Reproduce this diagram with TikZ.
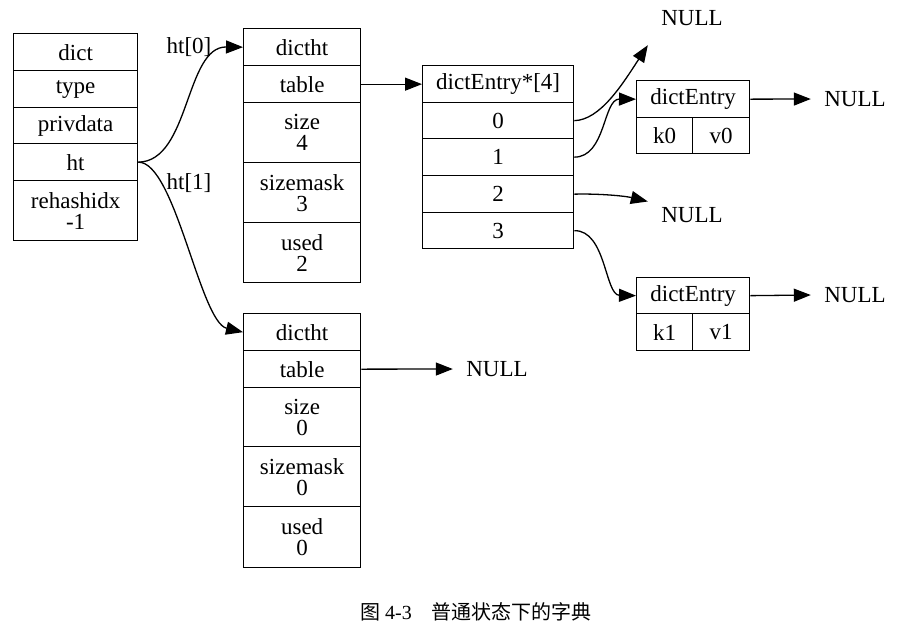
\documentclass[tikz,border=0pt]{standalone}
\usepackage{fontspec}
\setmainfont{Liberation Serif}
\newfontfamily\cjk{Noto Sans CJK SC}
\usetikzlibrary{arrows.meta}
\begin{document}
\begin{tikzpicture}[x=1pt,y=-1pt,
  txt/.style={font=\fontsize{23}{21}\selectfont},
  cell/.style={txt, draw, line width=1.3pt, inner sep=0pt, anchor=north west, align=center},
  null/.style={txt, inner sep=0pt, minimum width=88pt, minimum height=54pt},
  link/.style={line width=1.3pt, -{Triangle[length=17pt,width=13pt]}}]
\useasboundingbox (0,0) rectangle (921,633);
% dict
\node[cell, minimum width=124pt, minimum height=37pt] (d0) at (13,33) {dict};
\node[cell, minimum width=124pt, minimum height=37pt] (d1) at (13,70) {type};
\node[cell, minimum width=124pt, minimum height=36pt] (d2) at (13,107) {privdata};
\node[cell, minimum width=124pt, minimum height=37pt] (d3) at (13,143) {ht};
\node[cell, minimum width=124pt, minimum height=60pt] (d4) at (13,180) {rehashidx\\-1};
% dictht 0
\node[cell, minimum width=117pt, minimum height=37pt] (a0) at (243,28) {dictht};
\node[cell, minimum width=117pt, minimum height=37pt] (a1) at (243,65) {table};
\node[cell, minimum width=117pt, minimum height=60pt] (a2) at (243,102) {size\\4};
\node[cell, minimum width=117pt, minimum height=60pt] (a3) at (243,162) {sizemask\\3};
\node[cell, minimum width=117pt, minimum height=60pt] (a4) at (243,222) {used\\2};
% dictht 1
\node[cell, minimum width=117pt, minimum height=37pt] (b0) at (243,313) {dictht};
\node[cell, minimum width=117pt, minimum height=37pt] (b1) at (243,350) {table};
\node[cell, minimum width=117pt, minimum height=59pt] (b2) at (243,387) {size\\0};
\node[cell, minimum width=117pt, minimum height=60pt] (b3) at (243,446) {sizemask\\0};
\node[cell, minimum width=117pt, minimum height=61pt] (b4) at (243,506) {used\\0};
% array
\node[cell, minimum width=151pt, minimum height=37pt] (e0) at (422,65) {dictEntry*[4]};
\node[cell, minimum width=151pt, minimum height=36pt] (e1) at (422,102) {0};
\node[cell, minimum width=151pt, minimum height=37pt] (e2) at (422,138) {1};
\node[cell, minimum width=151pt, minimum height=37pt] (e3) at (422,175) {2};
\node[cell, minimum width=151pt, minimum height=36pt] (e4) at (422,212) {3};
% dictEntry 0
\node[cell, minimum width=113pt, minimum height=37pt] (f0) at (636,80) {dictEntry};
\node[cell, minimum width=56pt, minimum height=36pt] (f1) at (636,117) {k0};
\node[cell, minimum width=57pt, minimum height=36pt] (f2) at (692,117) {v0};
% dictEntry 1
\node[cell, minimum width=113pt, minimum height=36pt] (g0) at (636,277) {dictEntry};
\node[cell, minimum width=56pt, minimum height=37pt] (g1) at (636,313) {k1};
\node[cell, minimum width=57pt, minimum height=37pt] (g2) at (692,313) {v1};
% NULLs
\node[null] (n0) at (692,18) {NULL};
\node[null] (n1) at (855,99) {NULL};
\node[null] (n2) at (692,215) {NULL};
\node[null] (n3) at (855,295) {NULL};
\node[null] (n4) at (497,369) {NULL};
% labels
\node[txt] (l0) at (189,47) {ht[0]};
\node[txt] (l1) at (189,183) {ht[1]};
% connectors
\draw[link] (d3.east) .. controls (190,161.5) and (185,46.5) .. (a0.west);
\draw[link] (d3.east) .. controls (175,161.5) and (200,322) .. (b0.west);
\draw[link] (a1.east) -- (e0.west);
\draw[link] (b1.east) -- (n4.west);
\draw[link] (e1.east) .. controls (600,120) and (622,85) .. (n0.south west);
\draw[link] (e2.east) .. controls (606,157) and (603,99) .. (f0.west);
\draw[link] (e3.east) .. controls (600,193.5) and (625,196) .. (n2.163);
\draw[link] (e4.east) .. controls (606,230) and (605,295) .. (g0.west);
\draw[link] (f0.east) -- (n1.west);
\draw[link] (g0.east) -- (n3.west);
% caption
\node[font=\fontsize{20}{22}\selectfont] (cap) at (476,612) {{\cjk 图} 4-3\hspace{1em}{\cjk 普通状态下的字典}};
\end{tikzpicture}
\end{document}
